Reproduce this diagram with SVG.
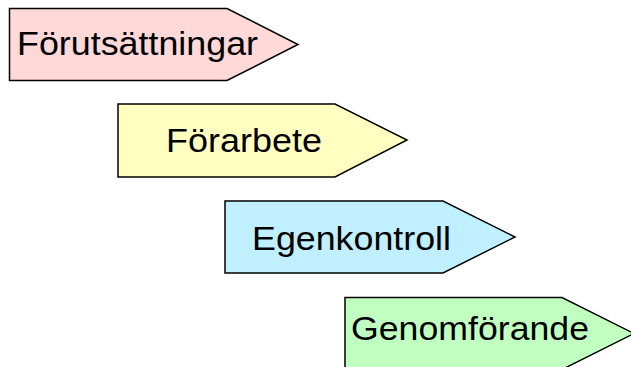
<svg xmlns="http://www.w3.org/2000/svg" width="631" height="367" viewBox="0 0 631 367">
<style>
.s{stroke:#000;stroke-width:1.5;stroke-linejoin:miter}
.t{font-family:"Liberation Sans",Arial,sans-serif;font-size:33px;fill:#000}
</style>
<rect width="631" height="367" fill="#fff"/>
<g id="n1"><polygon class="s" fill="#FFD8D8" points="9.5,8.5 227,8.5 298,44.5 227,80.5 9.5,80.5"/><text class="t" x="17" y="55" textLength="241" lengthAdjust="spacingAndGlyphs">Förutsättningar</text></g>
<g id="n2"><polygon class="s" fill="#FFFFC0" points="118,104 335,104 407,140 335,177 118,177"/><text class="t" x="166" y="152" textLength="156" lengthAdjust="spacingAndGlyphs">Förarbete</text></g>
<g id="n3"><polygon class="s" fill="#C0F0FF" points="225,201 443,201 515,237 443,273 225,273"/><text class="t" x="252" y="250" textLength="199" lengthAdjust="spacingAndGlyphs">Egenkontroll</text></g>
<g id="n4"><polygon class="s" fill="#C0FFC0" points="345,297.5 562,297.5 634,333.5 562,369.5 345,369.5"/><text class="t" x="351" y="340" textLength="238" lengthAdjust="spacingAndGlyphs">Genomförande</text></g>
<g id="connectors"/>
</svg>
